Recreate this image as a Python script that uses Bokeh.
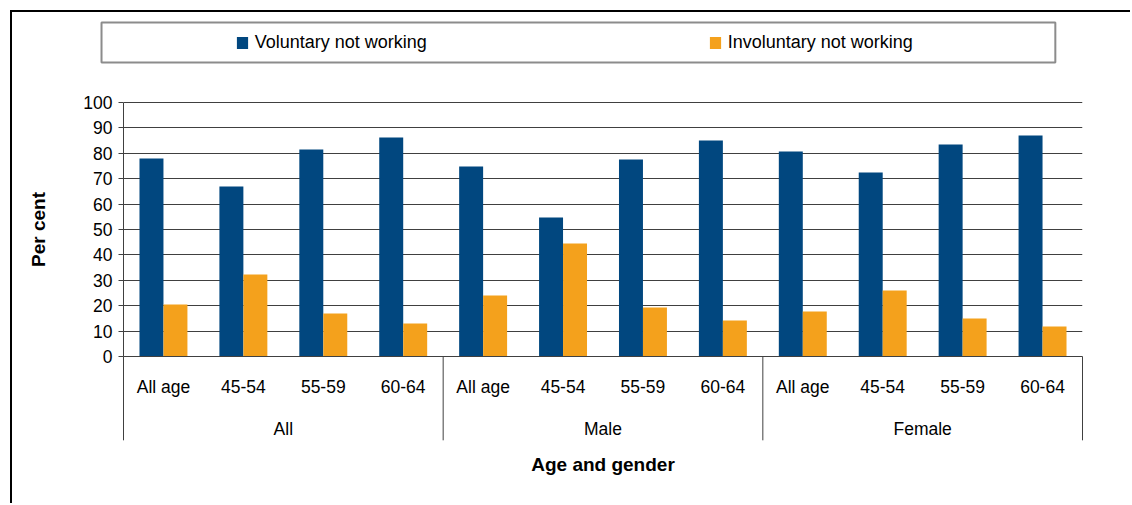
import math
from bokeh.plotting import figure
from bokeh.models import (FactorRange, Range1d, CategoricalAxis, FixedTicker,
                          Legend, LegendItem, ColumnDataSource)
from bokeh.core.properties import value
from bokeh.transform import dodge
from bokeh.embed import file_html
from bokeh.resources import INLINE

# ---------------- data ----------------
groups = ["All", "Male", "Female"]
ages = ["All age", "45-54", "55-59", "60-64"]
voluntary = [78.0, 66.9, 81.5, 86.2, 74.8, 54.7, 77.6, 85.0, 80.7, 72.4, 83.5, 87.0]
involuntary = [20.5, 32.3, 16.9, 13.0, 24.0, 44.5, 19.3, 14.2, 17.7, 26.0, 15.0, 11.8]
series_names = ["Voluntary not working", "Involuntary not working"]
y_ticks = [0, 10, 20, 30, 40, 50, 60, 70, 80, 90, 100]
y_title = "Per cent"
x_title = "Age and gender"

# ---------------- style ----------------
FONT = "Liberation Sans"
BLUE = "#01477F"
ORANGE = "#F4A11C"
GRID = "#404040"
TICK_SIZE = "17.5px"
LEGEND_SIZE = "18px"
TITLE_SIZE = "19px"

factors = [(g, a) for g in groups for a in ages]
src = ColumnDataSource(dict(x=factors, vol=voluntary, inv=involuntary))

# the plot area reaches up to the legend row; the value axis stops at 100
p = figure(
    x_range=FactorRange(*factors, factor_padding=0, group_padding=0, range_padding=0),
    y_range=Range1d(0, 131.5),
    width=1120, height=493,
    min_border_left=111, min_border_right=50, min_border_top=10, min_border_bottom=149,
    output_backend="svg", toolbar_location=None,
)
p.margin = (10, 0, 0, 10)
p.styles = {"border-left": "2px solid black", "border-top": "2px solid black"}
p.outline_line_color = None
p.background_fill_color = "white"
p.border_fill_color = "white"

r1 = p.vbar(x=dodge("x", -0.15, range=p.x_range), top="vol", width=0.3, source=src,
            fill_color=BLUE, line_color=None)
r2 = p.vbar(x=dodge("x", 0.15, range=p.x_range), top="inv", width=0.3, source=src,
            fill_color=ORANGE, line_color=None)

# grid
p.xgrid.grid_line_color = None
p.ygrid.grid_line_color = GRID
p.ygrid.grid_line_width = 1

# y axis
ya = p.yaxis[0]
ya.ticker = FixedTicker(ticks=y_ticks)
ya.bounds = (y_ticks[0], y_ticks[-1])
ya.minor_tick_line_color = None
ya.major_tick_in = 0
ya.major_tick_out = 5
ya.major_tick_line_color = GRID
ya.axis_line_color = GRID
ya.major_label_standoff = 6
ya.major_label_text_font = FONT
ya.major_label_text_font_size = TICK_SIZE
ya.major_label_text_color = "black"

# y title, centred on the 0-100 part of the value axis
p.text(x=[-1.064], y=[(y_ticks[0] + y_ticks[-1]) / 2], text=[y_title], angle=math.pi / 2,
       text_align="center", text_baseline="middle", text_font=value(FONT),
       text_font_size=TITLE_SIZE, text_font_style="bold", text_color="black",
       level="overlay")

# main (age) x axis
xa = p.xaxis[0]
xa.axis_line_color = GRID
xa.major_tick_line_color = None
xa.major_tick_out = 0
xa.major_tick_in = 0
xa.major_label_standoff = 20
xa.major_label_text_font = FONT
xa.major_label_text_font_size = TICK_SIZE
xa.major_label_text_color = "black"
xa.group_text_font_size = "0px"
xa.group_text_color = None
if "separator_line_color" in xa.properties():
    xa.separator_line_color = None

# group x axis
p.extra_x_ranges = {"grp": FactorRange(*groups, factor_padding=0, range_padding=0)}
ga = CategoricalAxis(x_range_name="grp")
ga.axis_line_color = None
ga.major_tick_line_color = None
ga.major_tick_out = 0
ga.major_tick_in = 0
ga.major_label_standoff = 19
ga.major_label_text_font = FONT
ga.major_label_text_font_size = TICK_SIZE
ga.major_label_text_color = "black"
ga.axis_label = x_title
ga.axis_label_text_font = FONT
ga.axis_label_text_font_size = TITLE_SIZE
ga.axis_label_text_font_style = "bold"
ga.axis_label_text_color = "black"
ga.axis_label_standoff = 12
if "separator_line_color" in ga.properties():
    ga.separator_line_color = None
p.add_layout(ga, "below")

# group separators below the axis
n = len(ages)
sep_x = [i * n for i in range(len(groups) + 1)]
p.segment(x0=sep_x, y0=[0] * len(sep_x), x1=sep_x, y1=[-33] * len(sep_x),
          line_color=GRID, line_width=1, level="overlay")

# legend
legend = Legend(
    items=[LegendItem(label=series_names[0], renderers=[r1]),
           LegendItem(label=series_names[1], renderers=[r2])],
    orientation="horizontal", location=(111.7, 303), padding=10, spacing=0, margin=0,
    glyph_width=14, glyph_height=15, label_standoff=6, label_width=453, label_height=20,
    label_text_font=FONT, label_text_font_size=LEGEND_SIZE, label_text_color="black",
    border_line_color=None, background_fill_alpha=0,
)
p.add_layout(legend)

# legend frame box
p.quad(left=[-0.275], right=[11.66], bottom=[115.75], top=[131.5],
       fill_color=None, line_color="#8c8c8c", line_width=2, level="overlay")

open("out.html", "w").write(file_html(p, INLINE))
